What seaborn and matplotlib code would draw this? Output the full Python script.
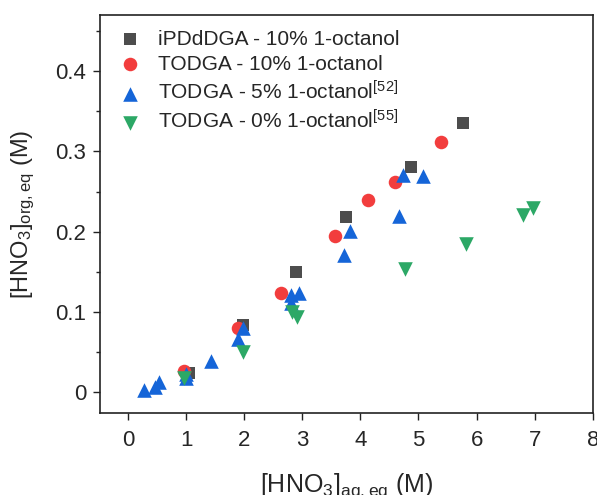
import matplotlib
matplotlib.use("Agg")
import matplotlib.pyplot as plt
import seaborn as sns
import pandas as pd
from matplotlib.ticker import MultipleLocator

# iPDdDGA - 10% 1-octanol
ipd_x = [1.05, 1.98, 2.90, 3.76, 4.88, 5.76]
ipd_y = [0.024, 0.084, 0.150, 0.218, 0.280, 0.335]

# TODGA - 10% 1-octanol
t10_x = [0.96, 1.90, 2.63, 3.56, 4.14, 4.60, 5.38]
t10_y = [0.026, 0.080, 0.124, 0.195, 0.239, 0.262, 0.312]

# TODGA - 5% 1-octanol [52]
t5_x = [0.28, 0.47, 0.53, 1.00, 1.00, 1.43, 1.89, 1.98, 2.80, 2.94, 2.80, 3.71, 3.83, 4.66, 4.73, 5.07]
t5_y = [0.003, 0.006, 0.012, 0.022, 0.018, 0.039, 0.066, 0.080, 0.121, 0.123, 0.111, 0.171, 0.201, 0.219, 0.271, 0.269]

# TODGA - 0% 1-octanol [55]
t0_x = [0.96, 1.98, 2.83, 2.91, 4.76, 5.82, 6.79, 6.97]
t0_y = [0.0175, 0.050, 0.100, 0.093, 0.153, 0.184, 0.221, 0.229]

labels = [
    "iPDdDGA - 10% 1-octanol",
    "TODGA - 10% 1-octanol",
    "TODGA - 5% 1-octanol$^{[52]}$",
    "TODGA - 0% 1-octanol$^{[55]}$",
]

series = [(ipd_x, ipd_y), (t10_x, t10_y), (t5_x, t5_y), (t0_x, t0_y)]
colors = ["#4d4d4d", "#f23d3d", "#1565d8", "#2ca866"]
markers = ["s", "o", "^", "v"]
sizes = [80, 95, 110, 110]

sns.set_style("ticks")
plt.rcParams["font.family"] = ["Liberation Sans", "DejaVu Sans"]
plt.rcParams["mathtext.default"] = "regular"

fig = plt.figure(figsize=(5.97, 4.95), dpi=100)
ax = fig.add_axes([0.1675, 0.1657, 0.8255, 0.804])

for (xs, ys), lab, c, m, s in zip(series, labels, colors, markers, sizes):
    df = pd.DataFrame({"x": xs, "y": ys})
    sns.scatterplot(data=df, x="x", y="y", ax=ax, color=c, marker=m, s=s,
                    linewidth=0, label=lab)

ax.set_xlim(-0.48, 8)
ax.set_ylim(-0.026, 0.47)
ax.xaxis.set_major_locator(MultipleLocator(1))
ax.yaxis.set_minor_locator(MultipleLocator(0.05))
ax.set_yticks([0, 0.1, 0.2, 0.3, 0.4])
ax.set_yticklabels(["0", "0.1", "0.2", "0.3", "0.4"])

ax.tick_params(axis="both", which="major", direction="out", length=5, width=1,
               labelsize=16, color="#222222", pad=5)
ax.tick_params(axis="x", which="major", pad=7)
ax.tick_params(axis="y", which="minor", direction="out", length=3, width=1,
               color="#222222")
for sp in ax.spines.values():
    sp.set_linewidth(1.2)
    sp.set_color("#222222")

ax.set_xlabel("[HNO$_3$]$_{aq, eq}$ (M)", fontsize=18, labelpad=15)
ax.set_ylabel("[HNO$_3$]$_{org, eq}$ (M)", fontsize=17, labelpad=13)

ax.legend(loc="upper left", frameon=False, fontsize=15, handletextpad=0.3,
          borderaxespad=0.3, labelspacing=0.3, markerscale=1.0,
          bbox_to_anchor=(-0.01, 1.0))

fig.savefig("out.png", dpi=100)
